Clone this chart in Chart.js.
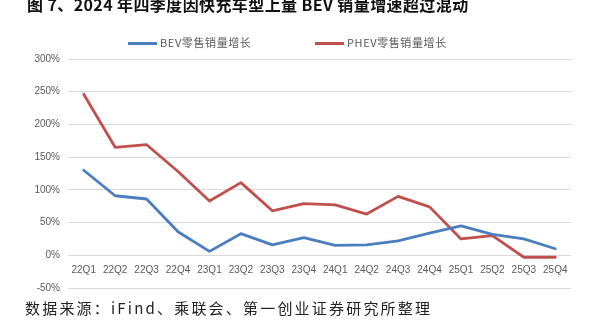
<!DOCTYPE html>
<html>
<head>
<meta charset="utf-8">
<script src="https://cdn.jsdelivr.net/npm/chart.js@4/dist/chart.umd.min.js"></script>
<style>
  body { margin: 0; background: #fff; }
  #wrap { position: relative; width: 605px; height: 323px; overflow: hidden; background: #fff; }
  #chart { position: absolute; left: 0; top: 0; }
  .title {
    position: absolute; left: 27px; top: -4px; white-space: nowrap;
    font: bold 16px "Noto Sans CJK SC", "DejaVu Sans", sans-serif; line-height: 16px; color: #111;
    letter-spacing: 0.4px;
  }
  .legend-item {
    position: absolute; top: 35px; height: 14px; white-space: nowrap;
    font: 11px "Noto Sans CJK SC", "Liberation Sans", sans-serif; line-height: 14px; color: #595959;
    letter-spacing: 0.6px;
  }
  .legend-item i { display: inline-block; width: 29px; height: 3px; vertical-align: middle; margin-right: 3px; margin-top: -2px; }
  .source {
    position: absolute; left: 25px; top: 299px; white-space: nowrap;
    font: 15px "Noto Sans CJK SC", sans-serif; line-height: 18px; color: #222; letter-spacing: 2.2px;
  }
</style>
</head>
<body>
<div id="wrap">
  <canvas id="chart" width="605" height="323"></canvas>
  <div class="title">图 7、2024 年四季度因快充车型上量 BEV 销量增速超过混动</div>
  <div id="legend"></div>
  <div class="source">数据来源：iFind、乘联会、第一创业证券研究所整理</div>
</div>
<script>
const quarters = ['22Q1', '22Q2', '22Q3', '22Q4', '23Q1', '23Q2', '23Q3', '23Q4',
                  '24Q1', '24Q2', '24Q3', '24Q4', '25Q1', '25Q2', '25Q3', '25Q4'];
// 零售销量同比增速（%）
const bevGrowth  = [130, 91, 86, 36, 6, 33, 16, 27, 15, 16, 22, 34, 45, 32, 25, 10];
const phevGrowth = [246, 165, 169, 128, 83, 111, 68, 79, 77, 63, 90, 74, 25, 30, -3, -3];
const yTicks = [-50, 0, 50, 100, 150, 200, 250, 300];

const seriesNames = ['BEV零售销量增长', 'PHEV零售销量增长'];
const seriesColors = ['#4a7ebf', '#c0504d'];
const legendLeft = [128, 315];

const tickFont = { family: '"Liberation Sans", Arial, sans-serif', size: 10 };

const chart = new Chart(document.getElementById('chart'), {
  type: 'line',
  data: {
    labels: quarters,
    datasets: [bevGrowth, phevGrowth].map((values, i) => ({
      label: seriesNames[i],
      data: values,
      borderColor: seriesColors[i],
      backgroundColor: seriesColors[i],
      borderWidth: 2.8,
      pointRadius: 0,
      tension: 0,
      borderJoinStyle: 'round',
      borderCapStyle: 'round',
    })),
  },
  options: {
    responsive: false,
    animation: false,
    layout: { padding: { top: 59, right: 34, bottom: 35, left: 0 } },
    plugins: {
      legend: { display: false },
      tooltip: { enabled: false },
    },
    scales: {
      x: {
        position: { y: 0 },
        offset: true,
        grid: { display: false, drawTicks: false },
        border: { display: false },
        ticks: { color: '#595959', font: tickFont, padding: 9, maxRotation: 0, autoSkip: false },
      },
      y: {
        min: yTicks[0],
        max: yTicks[yTicks.length - 1],
        afterBuildTicks: (scale) => { scale.ticks = yTicks.map(v => ({ value: v })); },
        afterFit: (scale) => { scale.width = 68; },
        grid: { color: '#d9d9d9', lineWidth: 1, drawTicks: false },
        border: { display: false },
        ticks: { color: '#595959', font: tickFont, padding: 8, callback: v => v + '%' },
      },
    },
  },
});

// 图例
const legend = document.getElementById('legend');
chart.data.datasets.forEach((ds, i) => {
  const item = document.createElement('div');
  item.className = 'legend-item';
  item.style.left = legendLeft[i] + 'px';
  item.innerHTML = '<i style="background:' + ds.borderColor + '"></i>' + ds.label;
  legend.appendChild(item);
});
</script>
</body>
</html>
